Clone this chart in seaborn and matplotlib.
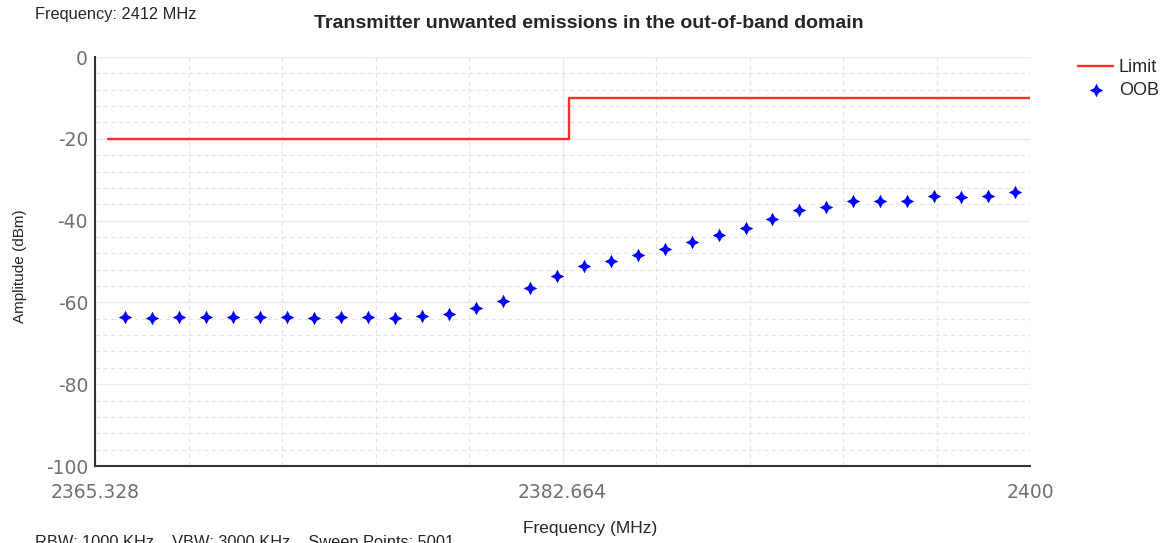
import matplotlib
matplotlib.use('Agg')
import matplotlib.pyplot as plt
from matplotlib.path import Path
from matplotlib.ticker import FixedLocator, MultipleLocator
import numpy as np
import pandas as pd
import seaborn as sns

# limit mask (dBm)
limit_freq = [2365.8, 2382.9, 2400.0]
limit_amp = [-20, -10, -10]

# measured out-of-band points
oob_freq = [2366.45, 2367.45, 2368.45, 2369.45, 2370.45, 2371.45, 2372.45, 2373.45,
            2374.45, 2375.45, 2376.45, 2377.45, 2378.45, 2379.45, 2380.45, 2381.45,
            2382.45, 2383.45, 2384.45, 2385.45, 2386.45, 2387.45, 2388.45, 2389.45,
            2390.45, 2391.45, 2392.45, 2393.45, 2394.45, 2395.45, 2396.45, 2397.45,
            2398.45, 2399.45]
oob_amp = [-63.6, -63.7, -63.5, -63.6, -63.6, -63.6, -63.6, -63.7,
           -63.6, -63.5, -63.7, -63.3, -62.8, -61.4, -59.6, -56.4,
           -53.6, -51.0, -49.8, -48.5, -46.9, -45.3, -43.5, -41.8,
           -39.6, -37.4, -36.7, -35.2, -35.1, -35.2, -34.0, -34.2,
           -34.0, -33.1]

xticks = [2365.328, 2382.664, 2400]
xtick_labels = ['2365.328', '2382.664', '2400']
yticks = [0, -20, -40, -60, -80, -100]

sns.set_style('white')
plt.rcParams['font.family'] = ['Liberation Sans', 'DejaVu Sans']
plt.rcParams['axes.unicode_minus'] = False

# fat 4-point star like the analyzer software uses
a = 0.34
star = Path([(0, 1), (a, a), (1, 0), (a, -a), (0, -1), (-a, -a), (-1, 0), (-a, a), (0, 1)],
            [Path.MOVETO] + [Path.LINETO] * 7 + [Path.CLOSEPOLY])

fig = plt.figure(figsize=(11.69, 5.43), dpi=100)
ax = fig.add_axes([0.0813, 0.1418, 0.7998, 0.7532])

lim = pd.DataFrame({'freq': limit_freq, 'amp': limit_amp})
oob = pd.DataFrame({'freq': oob_freq, 'amp': oob_amp})

sns.lineplot(data=lim, x='freq', y='amp', ax=ax, color='#ff2b2b', linewidth=1.7,
             drawstyle='steps-post', label='Limit', zorder=3)
sns.scatterplot(data=oob, x='freq', y='amp', ax=ax, color='#0000ff', marker=star,
                s=95, linewidth=0, label='OOB', zorder=4)

ax.set_xlim(xticks[0], xticks[-1])
ax.set_ylim(-100, 0)
ax.set_xticks(xticks)
ax.set_xticklabels(xtick_labels)
ax.set_yticks(yticks)
ax.xaxis.set_minor_locator(FixedLocator(np.linspace(xticks[0], xticks[-1], 11)))
ax.yaxis.set_minor_locator(MultipleLocator(4))

ax.grid(True, which='major', color='#ececec', linewidth=1.0, linestyle='-')
ax.grid(True, which='minor', color='#e4e4e4', linewidth=0.8, linestyle=(0, (4, 3)))
ax.set_axisbelow(True)

for side in ['top', 'right']:
    ax.spines[side].set_visible(False)
for side in ['left', 'bottom']:
    ax.spines[side].set_color('#333333')
    ax.spines[side].set_linewidth(1.5)

ax.tick_params(axis='y', which='major', length=3, color='#333333', labelsize=13.5,
               labelcolor='#707070', pad=2)
ax.tick_params(axis='x', which='major', length=0, labelsize=13.5,
               labelcolor='#707070', pad=12)
ax.tick_params(which='minor', length=0)
for lbl in ax.get_xticklabels() + ax.get_yticklabels():
    lbl.set_fontfamily('DejaVu Sans')

ax.set_xlabel('Frequency (MHz)', fontsize=12.5)
ax.xaxis.set_label_coords(0.529, -0.135)
ax.set_ylabel('Amplitude (dBm)', fontsize=11)
ax.yaxis.set_label_coords(-0.073, 0.489)
ax.set_title('Transmitter unwanted emissions in the out-of-band domain',
             fontsize=14, fontweight='bold', pad=21, x=0.528)

ax.legend(loc='upper left', bbox_to_anchor=(1.044, 1.012), frameon=False,
          fontsize=13, handlelength=1.9, handletextpad=0.35, labelspacing=0.3,
          borderaxespad=0)

fig.text(0.030, 0.974, 'Frequency: 2412 MHz', fontsize=11.8, va='center', ha='left')
fig.text(0.030, 0.014, 'RBW: 1000 KHz    VBW: 3000 KHz    Sweep Points: 5001',
         fontsize=11.8, va='top', ha='left')

fig.savefig('out.png', dpi=100)
